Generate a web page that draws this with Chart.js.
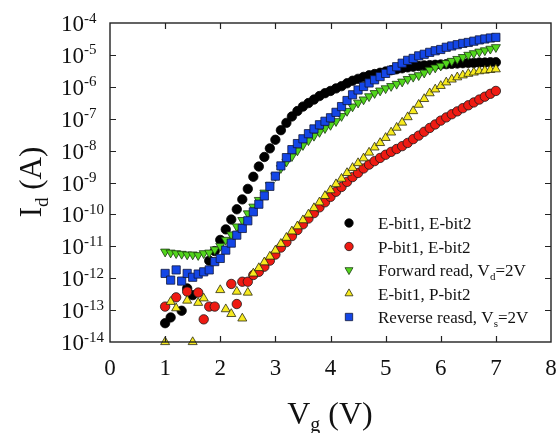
<!DOCTYPE html>
<html>
<head>
<meta charset="utf-8">
<script src="https://cdn.jsdelivr.net/npm/chart.js@4.4.1/dist/chart.umd.min.js"></script>
<style>
  html, body { margin: 0; padding: 0; background: #fff; }
  #wrap { width: 558px; height: 433px; }
</style>
</head>
<body>
<div id="wrap"><canvas id="chart" width="558" height="433"></canvas></div>
<script>
// Vg (V) sweep
const vg = [
  1.0, 1.1, 1.2, 1.3, 1.4, 1.5, 1.6, 1.7, 1.8, 1.9,
  2.0, 2.1, 2.2, 2.3, 2.4, 2.5, 2.6, 2.7, 2.8, 2.9,
  3.0, 3.1, 3.2, 3.3, 3.4, 3.5, 3.6, 3.7, 3.8, 3.9,
  4.0, 4.1, 4.2, 4.3, 4.4, 4.5, 4.6, 4.7, 4.8, 4.9,
  5.0, 5.1, 5.2, 5.3, 5.4, 5.5, 5.6, 5.7, 5.8, 5.9,
  6.0, 6.1, 6.2, 6.3, 6.4, 6.5, 6.6, 6.7, 6.8, 6.9,
  7.0
];

// log10(Id), null = point not visible
const logE1E2 = [
  -13.41, -13.23, null, -13.02, -12.32, -12.53, null, null, -11.45, -11.15,
  -10.80, -10.47, -10.16, -9.84, -9.53, -9.20, -8.82, -8.50, -8.20, -7.93,
  -7.66, -7.36, -7.13, -6.93, -6.76, -6.62, -6.51, -6.40, -6.29, -6.20,
  -6.13, -6.05, -5.98, -5.89, -5.81, -5.75, -5.69, -5.64, -5.60, -5.56,
  -5.52, -5.48, -5.45, -5.42, -5.39, -5.37, -5.35, -5.33, -5.32, -5.31,
  -5.30, -5.29, -5.28, -5.27, -5.26, -5.25, -5.25, -5.24, -5.24, -5.23,
  -5.23
];
const logP1E2 = [
  -12.89, null, -12.60, null, -12.42, null, -12.45, -13.29, -12.89, -12.89,
  null, null, -12.18, -12.81, -12.11, -12.11, -11.90, -11.80, -11.64, -11.45,
  -11.26, -11.04, -10.87, -10.68, -10.49, -10.31, -10.13, -9.96, -9.78, -9.62,
  -9.45, -9.29, -9.14, -8.98, -8.83, -8.70, -8.56, -8.44, -8.33, -8.23,
  -8.13, -8.04, -7.95, -7.86, -7.76, -7.64, -7.53, -7.41, -7.29, -7.18,
  -7.06, -6.96, -6.86, -6.77, -6.67, -6.58, -6.49, -6.40, -6.31, -6.22,
  -6.13
];
const logForward = [
  -11.17, -11.20, -11.22, -11.24, -11.26, -11.26, -11.28, -11.22, -11.20, -11.10,
  -10.99, -10.80, -10.63, -10.38, -10.18, -9.97, -9.76, -9.55, -9.32, -9.08,
  -8.80, -8.55, -8.35, -8.18, -8.00, -7.83, -7.68, -7.54, -7.42, -7.30,
  -7.20, -7.08, -6.92, -6.76, -6.62, -6.50, -6.40, -6.30, -6.20, -6.12,
  -6.05, -5.98, -5.91, -5.84, -5.76, -5.69, -5.64, -5.56, -5.47, -5.40,
  -5.34, -5.26, -5.19, -5.13, -5.07, -5.00, -4.95, -4.90, -4.86, -4.81,
  -4.76
];
const logE1P2 = [
  -14.00, -12.74, -12.94, null, -12.70, -14.00, -12.77, -12.63, null, null,
  -12.37, -12.97, -13.12, -12.42, -13.26, -12.45, -11.85, -11.68, -11.50, -11.32,
  -11.13, -10.92, -10.73, -10.53, -10.37, -10.18, -10.00, -9.80, -9.62, -9.42,
  -9.24, -9.05, -8.88, -8.70, -8.54, -8.39, -8.24, -8.06, -7.90, -7.76,
  -7.60, -7.43, -7.28, -7.12, -6.95, -6.76, -6.56, -6.38, -6.20, -6.08,
  -5.97, -5.86, -5.77, -5.70, -5.64, -5.59, -5.55, -5.51, -5.49, -5.47,
  -5.45
];
const logReverse = [
  -11.85, -12.06, -11.74, -12.09, -11.85, -11.97, -11.87, -11.80, -11.74, -11.48,
  -11.38, -11.12, -10.90, -10.65, -10.44, -10.20, -9.92, -9.68, -9.42, -9.12,
  -8.80, -8.48, -8.22, -7.97, -7.78, -7.63, -7.47, -7.32, -7.19, -7.08,
  -6.97, -6.80, -6.62, -6.43, -6.25, -6.10, -5.99, -5.88, -5.78, -5.68,
  -5.58, -5.48, -5.37, -5.26, -5.17, -5.11, -5.03, -4.98, -4.92, -4.87,
  -4.83, -4.76, -4.72, -4.68, -4.64, -4.61, -4.57, -4.53, -4.50, -4.47,
  -4.45
];

const xTicks = [0, 1, 2, 3, 4, 5, 6, 7, 8];
const yExponents = [-4, -5, -6, -7, -8, -9, -10, -11, -12, -13, -14];

const FONT = '"Liberation Serif", "Times New Roman", serif';

function toPoints(logs) {
  const pts = [];
  logs.forEach((l, i) => {
    if (l !== null) pts.push({ x: vg[i], y: Math.pow(10, l) });
  });
  return pts;
}

// legend label parts: [text, subscript, rest]
const series = [
  { data: logE1E2, bg: '#000000', border: '#000000', style: 'circle', rot: 0, r: 4.7, lr: 4.2, label: ['E-bit1, E-bit2'] },
  { data: logP1E2, bg: '#ee1a12', border: '#1a1a1a', style: 'circle', rot: 0, r: 4.7, lr: 4.2, label: ['P-bit1, E-bit2'] },
  { data: logForward, bg: '#52d61c', border: '#1a3a10', style: 'triangle', rot: 180, r: 5.2, lr: 4.6, label: ['Forward read, V', 'd', '=2V'] },
  { data: logE1P2, bg: '#f7ea1e', border: '#2a2a10', style: 'triangle', rot: 0, r: 5.2, lr: 4.6, label: ['E-bit1, P-bit2'] },
  { data: logReverse, bg: '#1446e6', border: '#10183a', style: 'rect', rot: 0, r: 5.8, lr: 5.2, label: ['Reverse reasd, V', 's', '=2V'] },
];

const datasets = series.map((s, i) => ({
  label: s.label.join(''),
  data: toPoints(s.data),
  showLine: false,
  pointStyle: s.style,
  rotation: s.rot,
  pointRadius: s.r,
  pointBackgroundColor: s.bg,
  pointBorderColor: s.border,
  pointBorderWidth: 0.8,
  clip: false,
  order: series.length - i, // later series drawn on top
}));

const framePlugin = {
  id: 'frame',
  afterDraw(chart) {
    const { ctx, chartArea: a, scales } = chart;
    const xs = scales.x, ys = scales.y;
    ctx.save();

    // box
    ctx.strokeStyle = '#222';
    ctx.lineWidth = 1.4;
    ctx.strokeRect(a.left, a.top, a.right - a.left, a.bottom - a.top);

    // inward ticks
    ctx.lineWidth = 1.2;
    ctx.beginPath();
    xTicks.slice(1, -1).forEach((v) => {
      const px = Math.round(xs.getPixelForValue(v)) + 0.5;
      ctx.moveTo(px, a.bottom); ctx.lineTo(px, a.bottom - 6);
      ctx.moveTo(px, a.top); ctx.lineTo(px, a.top + 6);
    });
    yExponents.slice(1, -1).forEach((e) => {
      const py = Math.round(ys.getPixelForValue(Math.pow(10, e))) + 0.5;
      ctx.moveTo(a.left, py); ctx.lineTo(a.left + 6, py);
      ctx.moveTo(a.right, py); ctx.lineTo(a.right - 6, py);
    });
    ctx.stroke();

    ctx.fillStyle = '#111';

    // x tick labels
    ctx.font = '23px ' + FONT;
    ctx.textAlign = 'center';
    ctx.textBaseline = 'middle';
    xTicks.forEach((v) => {
      ctx.fillText(String(v), xs.getPixelForValue(v), a.bottom + 27);
    });

    // y tick labels 10^e
    ctx.textAlign = 'left';
    ctx.textBaseline = 'alphabetic';
    yExponents.forEach((e) => {
      const py = ys.getPixelForValue(Math.pow(10, e));
      ctx.font = '23px ' + FONT;
      ctx.fillText('10', 61, py + 8);
      const w = ctx.measureText('10').width;
      ctx.font = '15px ' + FONT;
      ctx.fillText(String(e), 61 + w, py - 0.5);
    });

    // x axis title: Vg (V)
    drawSub(ctx, ['V', 'g', ' (V)'], 330, 424, 32, 'center');

    // y axis title: Id (A)
    ctx.save();
    ctx.translate(41, 182);
    ctx.rotate(-Math.PI / 2);
    drawSub(ctx, ['I', 'd', ' (A)'], 0, 0, 31, 'center');
    ctx.restore();

    // legend
    const legY = [223, 246.5, 270, 293.5, 317];
    series.forEach((s, i) => {
      ctx.fillStyle = s.bg;
      ctx.strokeStyle = s.border;
      ctx.lineWidth = 0.8;
      Chart.helpers.drawPoint(ctx, { pointStyle: s.style, radius: s.lr, rotation: s.rot, borderWidth: 0.8 }, 349, legY[i]);
      ctx.fillStyle = '#111';
      drawSub(ctx, s.label, 378, legY[i] + 6, 17, 'left');
    });

    ctx.restore();
  },
};

// draws [main, sub, rest] with a lowered, smaller middle part
function drawSub(ctx, parts, x, y, size, align) {
  const big = size + 'px ' + FONT;
  const small = Math.round(size * 0.62) + 'px ' + FONT;
  ctx.textBaseline = 'alphabetic';
  ctx.textAlign = 'left';
  ctx.font = big;
  const w0 = ctx.measureText(parts[0]).width;
  const w2 = parts[2] ? ctx.measureText(parts[2]).width : 0;
  ctx.font = small;
  const w1 = parts[1] ? ctx.measureText(parts[1]).width : 0;
  let sx = align === 'center' ? x - (w0 + w1 + w2) / 2 : x;
  ctx.font = big;
  ctx.fillText(parts[0], sx, y);
  if (parts[1]) {
    ctx.font = small;
    ctx.fillText(parts[1], sx + w0, y + size * 0.22);
    ctx.font = big;
    ctx.fillText(parts[2], sx + w0 + w1, y);
  }
}

new Chart(document.getElementById('chart'), {
  type: 'scatter',
  data: { datasets },
  options: {
    responsive: false,
    animation: false,
    devicePixelRatio: 1,
    layout: { padding: { left: 110, right: 7, top: 23, bottom: 91 } },
    scales: {
      x: {
        type: 'linear', min: 0, max: 8,
        ticks: { display: false },
        grid: { display: false, drawTicks: false },
        border: { display: false },
      },
      y: {
        type: 'logarithmic', min: 1e-14, max: 1e-4,
        ticks: { display: false },
        grid: { display: false, drawTicks: false },
        border: { display: false },
      },
    },
    plugins: { legend: { display: false }, tooltip: { enabled: false } },
  },
  plugins: [framePlugin],
});
</script>
</body>
</html>
